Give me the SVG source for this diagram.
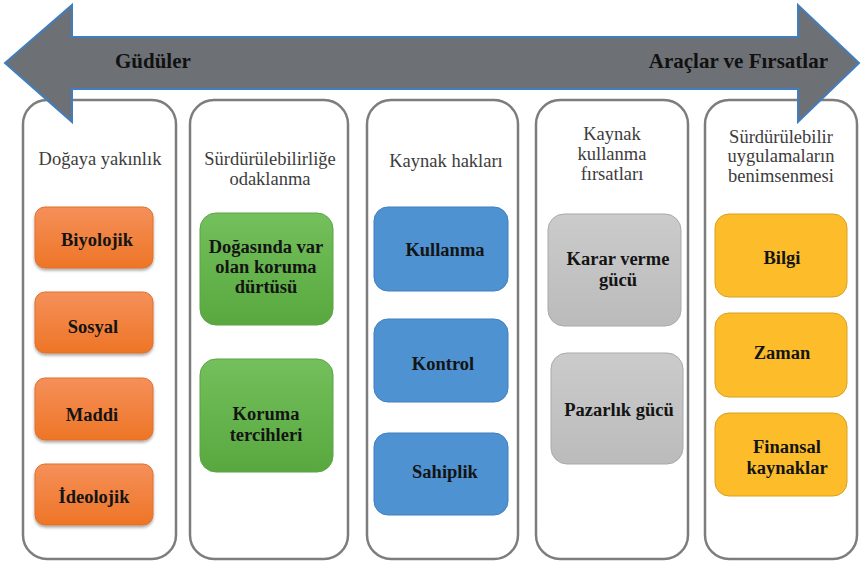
<svg xmlns="http://www.w3.org/2000/svg" width="861" height="564" viewBox="0 0 861 564">
<defs>
<linearGradient id="gOr" x1="0" y1="0" x2="0" y2="1"><stop offset="0" stop-color="#f5905a"/><stop offset="1" stop-color="#ee7526"/></linearGradient>
<linearGradient id="gGr" x1="0" y1="0" x2="0" y2="1"><stop offset="0" stop-color="#74c05c"/><stop offset="1" stop-color="#58a83f"/></linearGradient>
<linearGradient id="gGy" x1="0" y1="0" x2="0" y2="1"><stop offset="0" stop-color="#cbcbcb"/><stop offset="1" stop-color="#bbbbbb"/></linearGradient>
<filter id="sh" x="-10%" y="-10%" width="120%" height="130%"><feDropShadow dx="0" dy="2" stdDeviation="1.5" flood-color="#000" flood-opacity="0.35"/></filter>
</defs>
<style>
.col{fill:#fff;stroke:#7d7d7d;stroke-width:2.5}
.hd{font-size:18.5px;fill:#3c3c3c;text-anchor:middle}
.bt{font-size:18.5px;font-weight:bold;fill:#141414;text-anchor:middle}
.ti{font-size:21px;font-weight:bold;fill:#111}
.or{fill:url(#gOr);stroke:#e0702a;stroke-width:1;filter:url(#sh)}
.gr{fill:url(#gGr);stroke:#5aa444;stroke-width:1}
.bl{fill:#4e92d2;stroke:#3f7fbf;stroke-width:1}
.gy{fill:url(#gGy);stroke:#a9a9a9;stroke-width:1}
.ye{fill:#fdbd2b;stroke:#d9a01e;stroke-width:1}
</style>
<rect width="861" height="564" fill="#fff"/>
<g font-family="Liberation Serif, DejaVu Serif, serif">
<g id="col1">
<rect class="col" x="23" y="100" width="153" height="459" rx="24"/>
<text class="hd" x="100" y="165">Doğaya yakınlık</text>
</g>
<g id="col2">
<rect class="col" x="190" y="100" width="158" height="459" rx="24"/>
<text class="hd" x="270" y="165">Sürdürülebilirliğe</text>
<text class="hd" x="270" y="185">odaklanma</text>
</g>
<g id="col3">
<rect class="col" x="367" y="100" width="151" height="459" rx="24"/>
<text class="hd" x="446" y="167">Kaynak hakları</text>
</g>
<g id="col4">
<rect class="col" x="536" y="100" width="152" height="459" rx="24"/>
<text class="hd" x="612" y="140">Kaynak</text>
<text class="hd" x="612" y="160">kullanma</text>
<text class="hd" x="612" y="180">fırsatları</text>
</g>
<g id="col5">
<rect class="col" x="705" y="100" width="152" height="459" rx="24"/>
<text class="hd" x="781" y="143">Sürdürülebilir</text>
<text class="hd" x="781" y="162">uygulamaların</text>
<text class="hd" x="781" y="182">benimsenmesi</text>
</g>
<g id="arrow">
<polygon points="5,63 72,5 72,37 798,37 798,5 859,63 798,122 798,89 72,89 72,122" fill="#6d7176" stroke="#3f7fbf" stroke-width="2" stroke-linejoin="miter"/>
<text class="ti" x="115" y="68">Güdüler</text>
<text class="ti" x="828" y="68" text-anchor="end">Araçlar ve Fırsatlar</text>
</g>
<g id="n-biyolojik"><rect class="or" x="35" y="207" width="118" height="61" rx="10"/><text class="bt" x="97" y="246">Biyolojik</text></g>
<g id="n-sosyal"><rect class="or" x="35" y="292" width="118" height="61" rx="10"/><text class="bt" x="93" y="333">Sosyal</text></g>
<g id="n-maddi"><rect class="or" x="35" y="378" width="118" height="62" rx="10"/><text class="bt" x="92" y="421">Maddi</text></g>
<g id="n-ideolojik"><rect class="or" x="35" y="464" width="118" height="61" rx="10"/><text class="bt" x="94" y="503">İdeolojik</text></g>
<g id="n-dogasinda"><rect class="gr" x="200" y="213" width="133" height="112" rx="16"/><text class="bt" x="266" y="253">Doğasında var</text><text class="bt" x="266" y="273">olan koruma</text><text class="bt" x="266" y="293">dürtüsü</text></g>
<g id="n-koruma"><rect class="gr" x="200" y="359" width="133" height="113" rx="16"/><text class="bt" x="266" y="420">Koruma</text><text class="bt" x="266" y="441">tercihleri</text></g>
<g id="n-kullanma"><rect class="bl" x="374" y="207" width="134" height="84" rx="14"/><text class="bt" x="445" y="256">Kullanma</text></g>
<g id="n-kontrol"><rect class="bl" x="374" y="319" width="134" height="83" rx="14"/><text class="bt" x="443" y="370">Kontrol</text></g>
<g id="n-sahiplik"><rect class="bl" x="374" y="433" width="134" height="82" rx="14"/><text class="bt" x="445" y="478">Sahiplik</text></g>
<g id="n-karar"><rect class="gy" x="548" y="214" width="133" height="112" rx="16"/><text class="bt" x="618" y="265">Karar verme</text><text class="bt" x="618" y="286">gücü</text></g>
<g id="n-pazarlik"><rect class="gy" x="551" y="353" width="132" height="111" rx="16"/><text class="bt" x="619" y="416">Pazarlık gücü</text></g>
<g id="n-bilgi"><rect class="ye" x="715" y="214" width="132" height="83" rx="14"/><text class="bt" x="782" y="264">Bilgi</text></g>
<g id="n-zaman"><rect class="ye" x="715" y="313" width="132" height="84" rx="14"/><text class="bt" x="782" y="359">Zaman</text></g>
<g id="n-finansal"><rect class="ye" x="715" y="413" width="132" height="83" rx="14"/><text class="bt" x="787" y="453">Finansal</text><text class="bt" x="787" y="474">kaynaklar</text></g>
</g>
<g id="connectors"></g>
</svg>
